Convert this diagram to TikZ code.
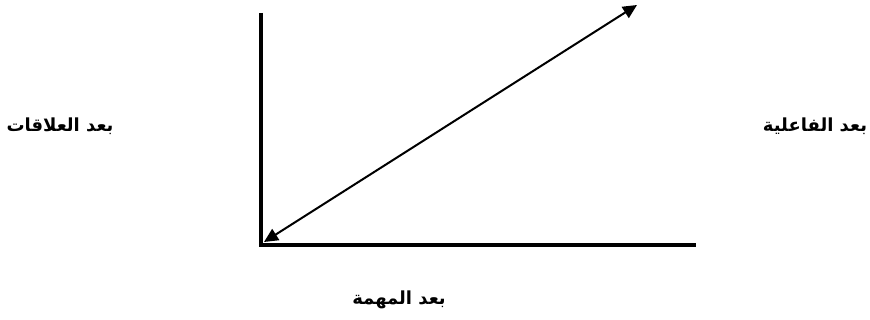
\documentclass[tikz,border=0pt]{standalone}
\usepackage{fontspec}
\newfontfamily\arabicfont[Script=Arabic]{DejaVu Sans}
\TeXXeTstate=1
\usetikzlibrary{arrows.meta}
\begin{document}
\begin{tikzpicture}[x=1pt,y=1pt,
  axis/.style={line width=3.6pt},
  diag/.style={line width=2pt,{Triangle[length=14pt,width=13pt]}-{Triangle[length=14pt,width=13pt]}},
  lbl/.style={font=\arabicfont\bfseries\fontsize{18}{21}\selectfont, inner sep=0pt}]
\useasboundingbox (0,0) rectangle (870,320);
\coordinate (top) at (261,307);
\coordinate (origin) at (261,75);
\coordinate (right) at (696,75);
\coordinate (dA) at (264,78);
\coordinate (dB) at (637,315);
\draw[axis] (top) -- (origin) -- (right);
\draw[diag] (dA) -- (dB);
\node[lbl] (rel) at (60,194) {\beginR بعد العلاقات\endR};
\node[lbl] (eff) at (815,194) {\beginR بعد الفاعلية\endR};
\node[lbl] (task) at (399,20) {\beginR بعد المهمة\endR};
\end{tikzpicture}
\end{document}
